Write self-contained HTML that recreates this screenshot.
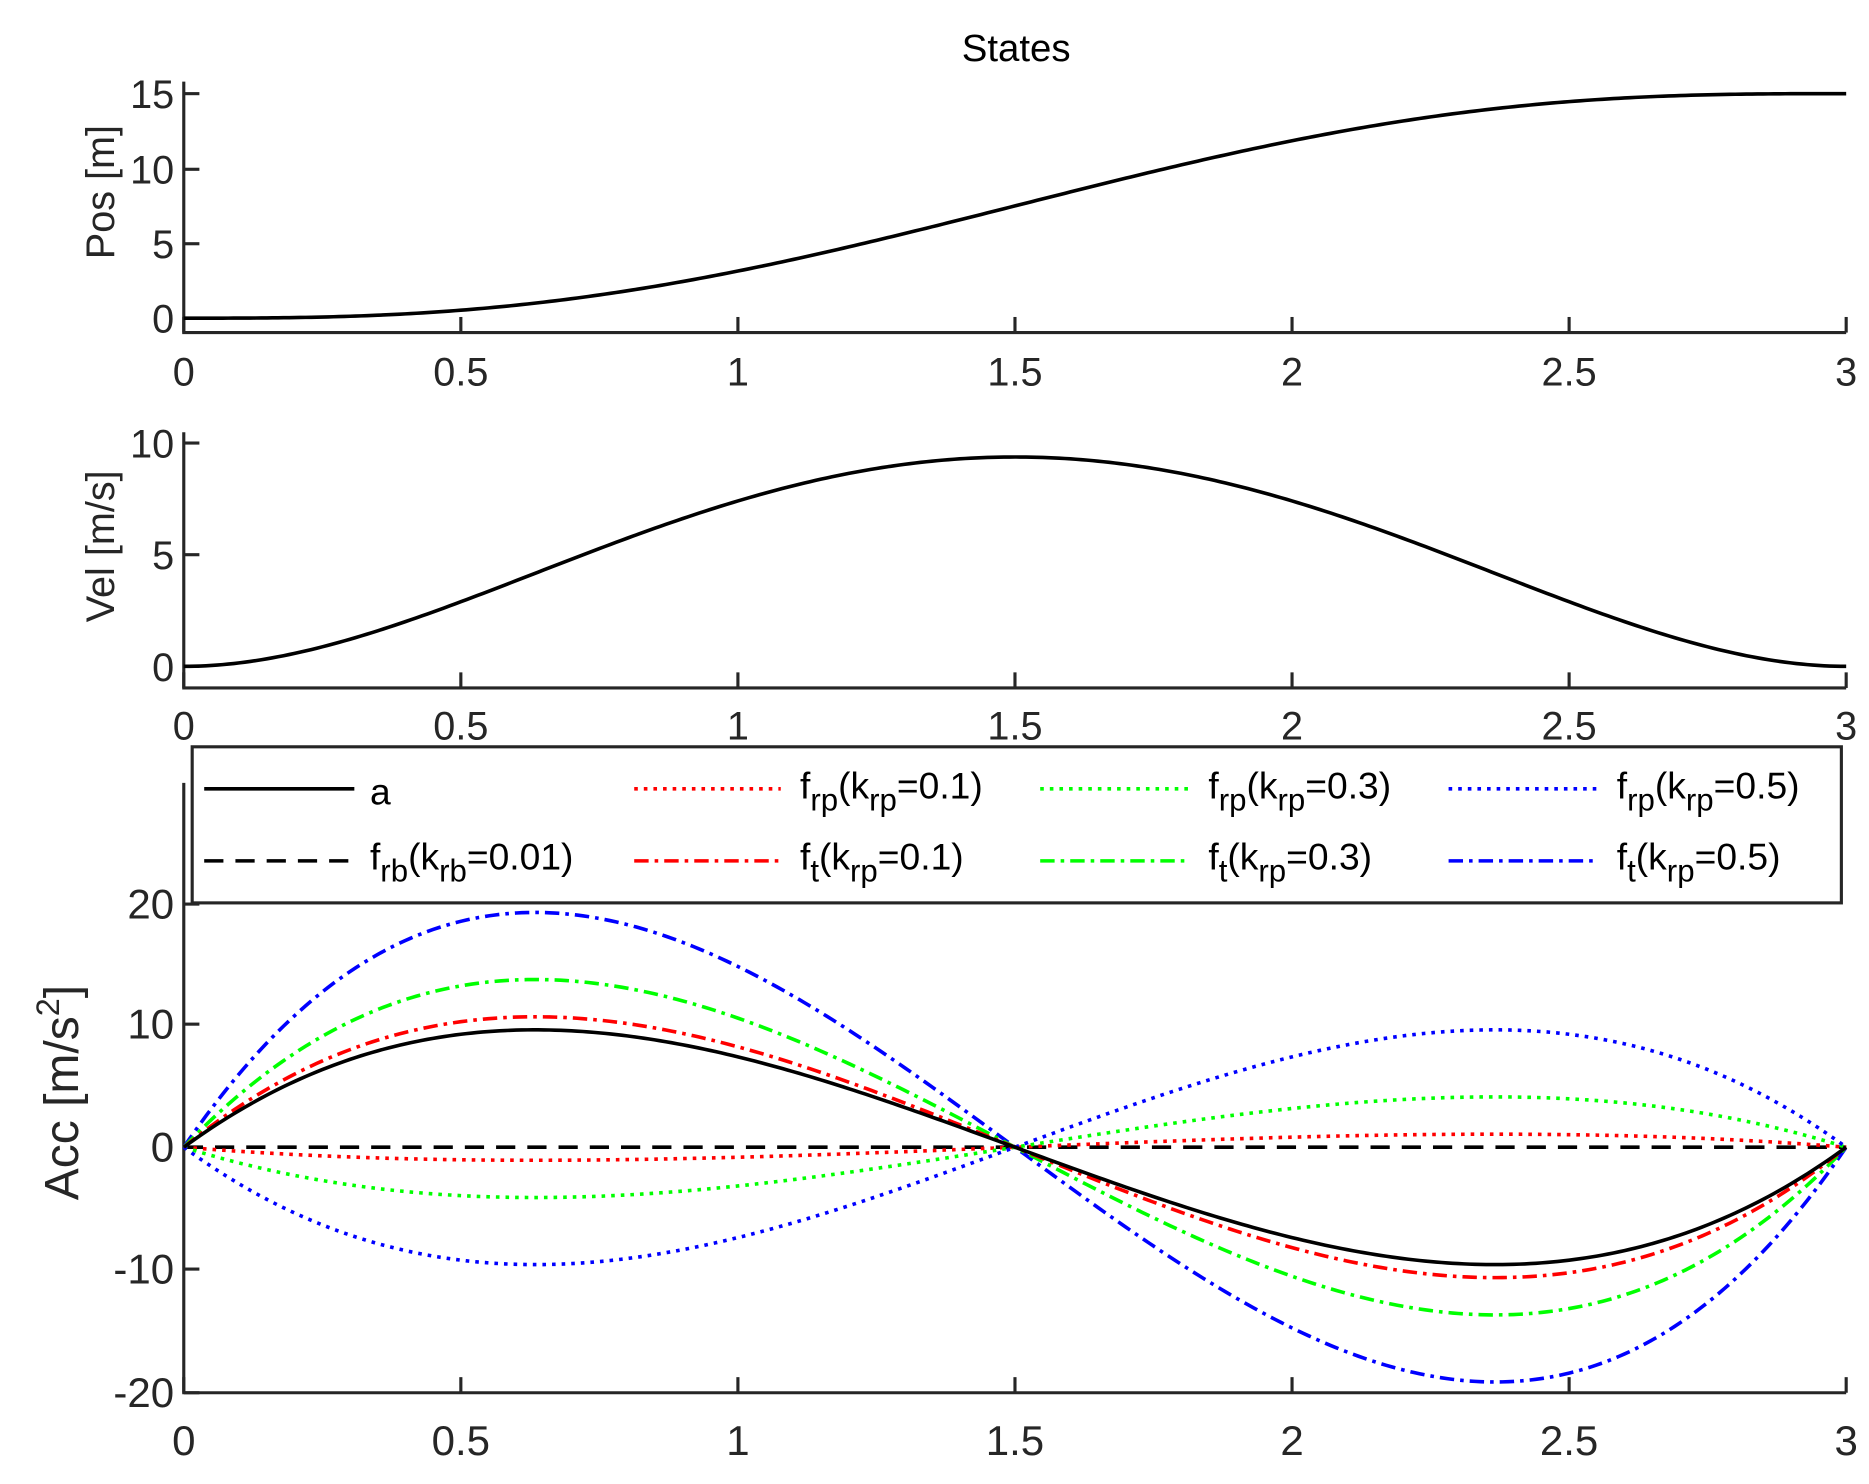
<!DOCTYPE html>
<html><head><meta charset="utf-8"><style>
html,body{margin:0;padding:0;background:#fff;}
svg{display:block;font-family:"Liberation Sans",Arial,sans-serif;}
</style></head><body>
<svg id="s" width="1869" height="1484" viewBox="0 0 1556 1236" preserveAspectRatio="none" xmlns="http://www.w3.org/2000/svg">
<rect width="1556" height="1236" fill="#fff"/>
<text x="846" y="51" font-size="32" text-anchor="middle" fill="#000">States</text>
<g id="axes" stroke="#262626" stroke-width="2.6" fill="none"></g>
<g id="curves" fill="none" stroke-width="3"></g>
<g id="labels" fill="#262626"></g>
<text transform="translate(95,160) rotate(-90)" font-size="33" text-anchor="middle" fill="#262626">Pos [m]</text>
<text transform="translate(95,455) rotate(-90)" font-size="33" text-anchor="middle" fill="#262626">Vel [m/s]</text>
<text transform="translate(65,910) rotate(-90)" font-size="40" text-anchor="middle" fill="#262626">Acc [m/s<tspan font-size="27" dy="-16">2</tspan><tspan dy="16">]</tspan></text>
<g id="legend">
<rect x="160" y="622" width="1373" height="130" fill="#fff" stroke="#262626" stroke-width="2.6"/>
<g font-size="31" fill="#000">
<text x="308" y="670">a</text>
<text x="308" y="724">f<tspan font-size="26" dy="10">rb</tspan><tspan dy="-10">(k</tspan><tspan font-size="26" dy="10">rb</tspan><tspan dy="-10">=0.01)</tspan></text>
<text x="666" y="665">f<tspan font-size="26" dy="10">rp</tspan><tspan dy="-10">(k</tspan><tspan font-size="26" dy="10">rp</tspan><tspan dy="-10">=0.1)</tspan></text>
<text x="666" y="724">f<tspan font-size="26" dy="10">t</tspan><tspan dy="-10">(k</tspan><tspan font-size="26" dy="10">rp</tspan><tspan dy="-10">=0.1)</tspan></text>
<text x="1006" y="665">f<tspan font-size="26" dy="10">rp</tspan><tspan dy="-10">(k</tspan><tspan font-size="26" dy="10">rp</tspan><tspan dy="-10">=0.3)</tspan></text>
<text x="1006" y="724">f<tspan font-size="26" dy="10">t</tspan><tspan dy="-10">(k</tspan><tspan font-size="26" dy="10">rp</tspan><tspan dy="-10">=0.3)</tspan></text>
<text x="1346" y="665">f<tspan font-size="26" dy="10">rp</tspan><tspan dy="-10">(k</tspan><tspan font-size="26" dy="10">rp</tspan><tspan dy="-10">=0.5)</tspan></text>
<text x="1346" y="724">f<tspan font-size="26" dy="10">t</tspan><tspan dy="-10">(k</tspan><tspan font-size="26" dy="10">rp</tspan><tspan dy="-10">=0.5)</tspan></text>
</g>
<g stroke-width="3">
<line x1="170" y1="657" x2="295" y2="657" stroke="#000"/>
<line x1="170" y1="717" x2="295" y2="717" stroke="#000" stroke-dasharray="16,10"/>
<line x1="528" y1="657" x2="650" y2="657" stroke="#f00" stroke-dasharray="3,5"/>
<line x1="528" y1="717" x2="650" y2="717" stroke="#f00" stroke-dasharray="12,5,3,5"/>
<line x1="866" y1="657" x2="990" y2="657" stroke="#0f0" stroke-dasharray="3,5"/>
<line x1="866" y1="717" x2="990" y2="717" stroke="#0f0" stroke-dasharray="12,5,3,5"/>
<line x1="1206" y1="657" x2="1330" y2="657" stroke="#00f" stroke-dasharray="3,5"/>
<line x1="1206" y1="717" x2="1330" y2="717" stroke="#00f" stroke-dasharray="12,5,3,5"/>
</g>
</g>
</svg>
<script>
(function(){
var NS="http://www.w3.org/2000/svg";
var X0=153,X1=1537;
function X(t){return X0+(X1-X0)*t/3;}
function el(p,n,a,txt){var e=document.createElementNS(NS,n);for(var k in a)e.setAttribute(k,a[k]);if(txt!==undefined)e.textContent=txt;p.appendChild(e);return e;}
var axes=document.getElementById('axes'),lab=document.getElementById('labels'),cur=document.getElementById('curves');
var panels=[
 {top:68,bot:277,ticks:[[0,265],[5,203],[10,141],[15,78]],xl:321},
 {top:360,bot:573,ticks:[[0,555],[5,462],[10,369]],xl:616},
 {top:652,bot:1160,ticks:[[-20,1160],[-10,1057],[0,955.5],[10,853],[20,753]],xl:1212}
];
var xt=[0,0.5,1,1.5,2,2.5,3],xs=["0","0.5","1","1.5","2","2.5","3"];
panels.forEach(function(p,i){
 var fs=i==2?35:33;
 el(axes,'path',{d:'M'+X0+' '+p.top+'V'+p.bot+'H'+X1});
 xt.forEach(function(v,j){var x=X(v);el(axes,'line',{x1:x,y1:p.bot,x2:x,y2:p.bot-13});
  el(lab,'text',{x:x,y:p.xl,'text-anchor':'middle','font-size':fs},xs[j]);});
 p.ticks.forEach(function(t){el(axes,'line',{x1:X0,y1:t[1],x2:X0+13,y2:t[1]});
  el(lab,'text',{x:X0-8,y:t[1]+12,'text-anchor':'end','font-size':fs},String(t[0]));});
});
function path(f,Y){var d='';for(var i=0;i<=300;i++){var t=3*i/300;d+=(i?'L':'M')+X(t).toFixed(2)+' '+Y(f(t)).toFixed(2);}return d;}
function pos(t){var s=t/3;return 15*(10*s*s*s-15*s*s*s*s+6*Math.pow(s,5));}
function vel(t){var s=t/3;return 5*(30*s*s-60*s*s*s+30*s*s*s*s);}
function acc(t){var s=t/3;return (15/9)*(60*s-180*s*s+120*s*s*s);}
var Yp=function(v){return 265-(265-78)*v/15;},Yv=function(v){return 555-(555-369)*v/10;},Ya=function(v){return 955.5-v*10.16;};
el(cur,'path',{d:path(pos,Yp),stroke:'#000'});
el(cur,'path',{d:path(vel,Yv),stroke:'#000'});
var cols={0.1:'#f00',0.3:'#0f0',0.5:'#00f'};
el(cur,'path',{d:path(function(t){return 0;},Ya),stroke:'#000','stroke-dasharray':'16,10'});
[0.1,0.3,0.5].forEach(function(k){
 el(cur,'path',{d:path(function(t){return -k*acc(t)/(1-k);},Ya),stroke:cols[k],'stroke-dasharray':'3,5'});
});
[0.5,0.3,0.1].forEach(function(k){
 el(cur,'path',{d:path(function(t){return acc(t)/(1-k);},Ya),stroke:cols[k],'stroke-dasharray':'12,5,3,5'});
});
el(cur,'path',{d:path(acc,Ya),stroke:'#000'});
})();
</script>
</body></html>
